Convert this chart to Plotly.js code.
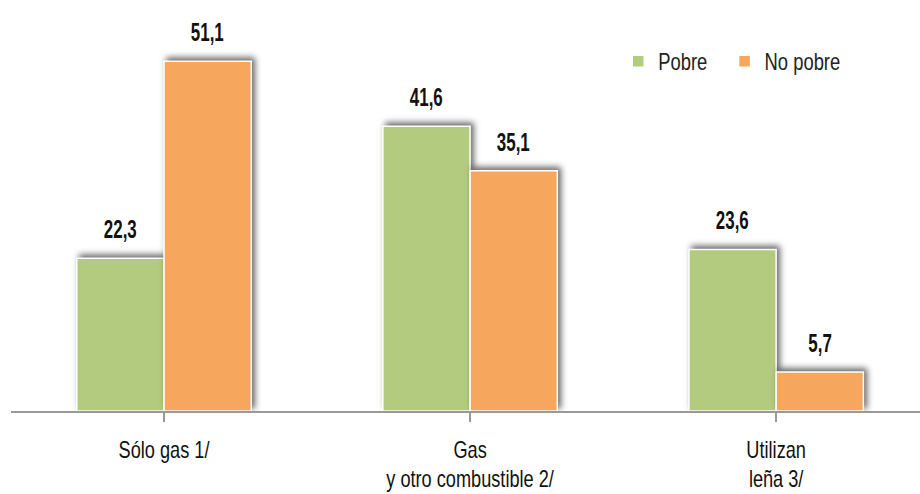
<!DOCTYPE html>
<html>
<head>
<meta charset="utf-8">
<script src="https://cdn.plot.ly/plotly-3.0.1.min.js"></script>
<style>
  body { margin: 0; background: #fff; }
  #chart { width: 920px; height: 494px; }
  .barlayer .point path { filter: drop-shadow(3px -3px 3px rgba(0,0,0,0.6)); }
</style>
</head>
<body>
<div id="chart"></div>
<script>
const categories = ["Sólo gas 1/", "Gas<br>y otro combustible 2/", "Utilizan<br>leña 3/"];
const seriesNames = ["Pobre", "No pobre"];
const pobre = [22.3, 41.6, 23.6];
const noPobre = [51.1, 35.1, 5.7];
const colors = ["#B3CB7E", "#F7A65E"];

const FONT = "'Liberation Sans', Arial, sans-serif";
const bargap = 0.43;
const barW = (1 - bargap) / 2;

function fmt(v) { return v.toFixed(1).replace('.', ','); }

const traces = [pobre, noPobre].map((vals, s) => ({
  type: 'bar',
  name: seriesNames[s],
  x: [0, 1, 2],
  y: vals,
  marker: { color: colors[s], line: { color: '#ffffff', width: 1.5 } },
  hoverinfo: 'none'
}));

const annotations = [];
[pobre, noPobre].forEach((vals, s) => {
  vals.forEach((v, i) => {
    annotations.push({
      x: i + (s === 0 ? -barW / 2 : barW / 2),
      y: v,
      xref: 'x', yref: 'y',
      text: fmt(v),
      showarrow: false,
      yanchor: 'bottom',
      yshift: 12,
      font: { family: FONT, size: 26, color: '#111', weight: 'bold' }
    });
  });
});

const layout = {
  width: 920, height: 494,
  margin: { l: 11, r: 0, t: 14, b: 83 },
  paper_bgcolor: '#fff', plot_bgcolor: '#fff',
  barmode: 'group',
  bargap: bargap,
  bargroupgap: 0,
  showlegend: true,
  legend: {
    orientation: 'h',
    x: 0.668, y: 0.935, xanchor: 'left', yanchor: 'top',
    font: { family: FONT, size: 23, color: '#222' },
    itemwidth: 30,
    bgcolor: 'rgba(0,0,0,0)'
  },
  xaxis: {
    tickmode: 'array',
    tickvals: [0, 1, 2],
    ticktext: categories,
    range: [-0.5, 2.47],
    tickson: 'boundaries',
    ticks: 'outside', ticklen: 9, tickwidth: 2, tickcolor: '#999',
    showline: true, linecolor: '#999', linewidth: 2,
    showgrid: false, zeroline: false,
    tickfont: { family: FONT, size: 23, color: '#111' },
    ticklabelstandoff: 8
  },
  yaxis: {
    range: [0, 58],
    visible: false,
    showgrid: false, zeroline: false
  },
  annotations: annotations
};

// Compress text horizontally to mimic a narrow typeface
function narrow(selector, s) {
  document.querySelectorAll(selector).forEach(el => {
    const x = parseFloat(el.getAttribute('x')) || 0;
    const existing = el.getAttribute('transform') || '';
    el.setAttribute('transform', existing + ` translate(${x},0) scale(${s},1) translate(${-x},0)`);
  });
}

Plotly.newPlot('chart', traces, layout, { displayModeBar: false, staticPlot: true }).then(() => {
  narrow('.xtick text', 0.79);
  narrow('.legendtext', 0.8);
  narrow('.annotation-text', 0.65);
});
</script>
</body>
</html>
